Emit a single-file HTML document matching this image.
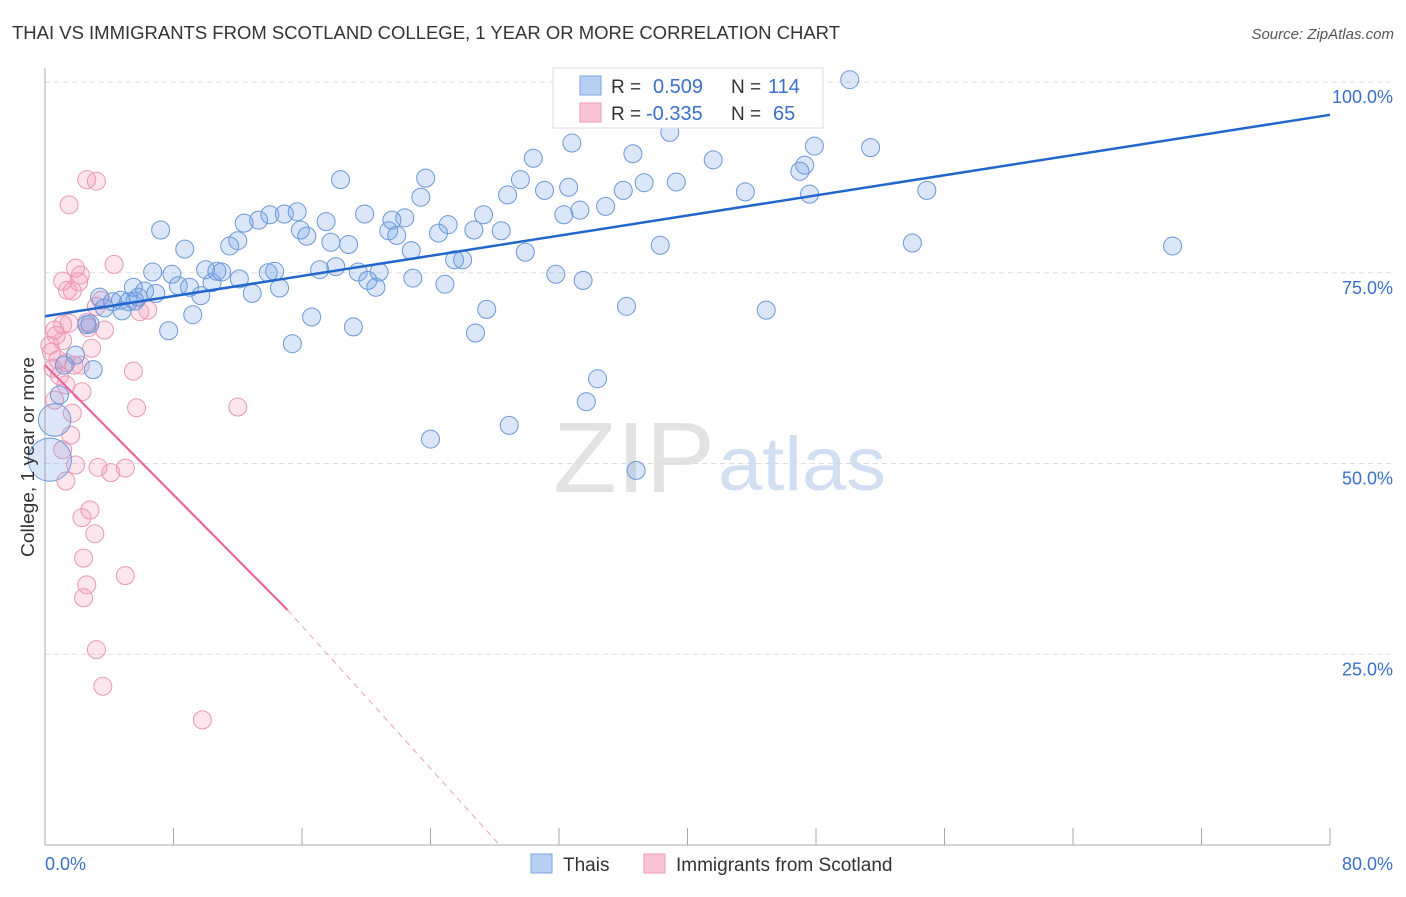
<!DOCTYPE html>
<html><head><meta charset="utf-8"><style>
body{margin:0;background:#fff;font-family:"Liberation Sans",sans-serif;}
svg text{font-family:"Liberation Sans",sans-serif;}
</style></head><body>
<svg id="chart" width="1406" height="892" viewBox="0 0 1406 892" xmlns="http://www.w3.org/2000/svg">
<text x="12" y="39" font-size="18" fill="#333" textLength="828" lengthAdjust="spacingAndGlyphs">THAI VS IMMIGRANTS FROM SCOTLAND COLLEGE, 1 YEAR OR MORE CORRELATION CHART</text>
<text x="1394" y="39" font-size="15" fill="#555" text-anchor="end" font-style="italic">Source: ZipAtlas.com</text>
<g id="grid"></g>
<text x="553" y="492" font-size="100" fill="#ddd" font-family="Liberation Serif" opacity="0.8" textLength="162" lengthAdjust="spacingAndGlyphs">ZIP</text>
<text x="718" y="490" font-size="76" fill="#c8d8f0" opacity="0.8" textLength="168" lengthAdjust="spacingAndGlyphs">atlas</text>
<g id="axes"></g>
<g id="pts"></g>
<g id="trends"></g>
<text transform="translate(34,457) rotate(-90)" font-size="18.5" fill="#333" text-anchor="middle" textLength="200" lengthAdjust="spacingAndGlyphs">College, 1 year or more</text>
<g>
<rect x="553" y="68" width="270" height="60" fill="#fff" stroke="#ddd"/>
<rect x="580" y="76" width="21" height="19" fill="#b8d0f2" stroke="#7aa6e0"/>
<rect x="580" y="103" width="21" height="19" fill="#f8c4d4" stroke="#ee9ab4"/>
<text x="611" y="93" font-size="19" fill="#333">R =</text>
<text x="653" y="93" font-size="20" fill="#3a70c8">0.509</text>
<text x="731" y="93" font-size="19" fill="#333">N =</text>
<text x="768" y="93" font-size="20" fill="#3a70c8">114</text>
<text x="611" y="120" font-size="19" fill="#333">R =</text>
<text x="646" y="120" font-size="20" fill="#3a70c8">-0.335</text>
<text x="731" y="120" font-size="19" fill="#333">N =</text>
<text x="773" y="120" font-size="20" fill="#3a70c8">65</text>
</g>
<g>
<rect x="531" y="854" width="21" height="19" fill="#b8d0f2" stroke="#7aa6e0"/>
<text x="563" y="871" font-size="19" fill="#333">Thais</text>
<rect x="644" y="854" width="21" height="19" fill="#f8c4d4" stroke="#ee9ab4"/>
<text x="676" y="871" font-size="19" fill="#333">Immigrants from Scotland</text>
</g>
</svg>
<script>
const xTicks=[0,8,16,24,32,40,48,56,64,72,80];
const yTicks=[25,50,75,100];
const yTickLabels=["25.0%","50.0%","75.0%","100.0%"];
const xLabels=["0.0%","80.0%"];
const thaiX=[50.1,38.9,32.8,47.9,51.4,30.4,36.6,41.6,47.3,47.0,18.4,23.7,29.6,31.1,32.6,37.3,39.3,43.6,47.6,54.9,23.4,28.8,36.0,34.9,33.3,32.3,19.9,14.0,14.9,15.7,13.3,12.4,22.4,21.6,17.5,27.3,25.1,7.2,15.9,16.3,21.4,21.9,24.5,26.7,28.4,12.0,11.5,17.8,18.9,8.7,38.3,54.0,70.2,22.8,29.9,25.5,26.0,6.7,10.0,10.7,11.0,7.9,13.9,14.3,17.1,18.1,19.5,20.8,31.8,33.5,12.1,10.4,8.3,9.0,5.5,6.2,6.9,14.6,12.9,20.1,20.6,22.9,24.9,9.7,3.4,4.2,4.7,5.6,5.8,5.2,3.7,4.8,9.2,27.5,36.2,44.9,16.6,2.8,2.6,7.7,19.2,26.8,15.4,1.9,1.2,3.0,34.4,33.7,0.9,24.0,28.9,36.8,0.6,0.3];
const thaiY=[100.3,93.4,92.0,91.6,91.4,90.0,90.6,89.8,89.1,88.3,87.2,87.4,87.2,85.8,86.2,86.8,86.9,85.6,85.3,85.8,84.9,85.2,85.8,83.7,83.2,82.6,82.7,82.6,82.7,83.0,81.9,81.5,82.2,81.9,81.7,82.6,81.3,80.6,80.6,79.8,80.5,79.9,80.2,80.6,80.5,79.2,78.5,79.0,78.7,78.1,78.6,78.9,78.5,77.9,77.7,76.7,76.7,75.1,75.4,75.2,75.1,74.8,75.0,75.2,75.4,75.8,75.1,75.1,74.8,74.0,74.2,73.7,73.3,73.1,73.1,72.6,72.3,73.0,72.3,74.0,73.1,74.3,73.5,72.0,71.8,71.2,71.4,71.3,71.8,71.2,70.4,70.0,69.5,70.2,70.6,70.1,69.2,68.3,68.2,67.4,67.9,67.1,65.7,64.2,62.9,62.3,61.1,58.1,59.0,53.2,55.0,49.1,55.7,50.5];
const thaiSize=[];for(let i=0;i<thaiX.length;i++)thaiSize.push(1);thaiSize[thaiX.length-2]=1.8;thaiSize[thaiX.length-1]=2.4;
const scotX=[2.6,3.2,1.5,4.3,1.1,1.9,2.2,2.1,1.4,1.7,3.5,3.2,2.6,1.1,0.7,5.9,6.4,0.3,0.4,0.8,0.5,1.3,1.8,0.9,1.3,2.3,5.5,0.6,1.7,1.6,5.7,12.0,1.1,1.9,3.3,4.1,5.0,1.3,2.3,2.8,3.1,2.4,2.6,5.0,2.4,3.2,3.6,9.8,1.1,2.2,2.9,1.5,0.6,3.7,2.7];
const scotY=[87.2,87.0,83.9,76.1,73.9,75.6,74.7,73.8,72.7,72.6,71.4,70.6,68.5,68.2,66.8,69.9,70.1,65.5,64.6,63.6,62.5,63.2,62.9,61.5,60.3,59.4,62.1,58.3,56.6,53.7,57.3,57.4,51.8,49.8,49.5,48.8,49.4,47.7,42.9,43.9,40.8,37.6,34.1,35.3,32.4,25.6,20.8,16.4,66.1,62.9,65.1,68.4,67.5,67.5,67.8];
const thaiTrend=[[0,69.3],[80,95.7]];
const scotTrendSolid=[[0,62.9],[15.1,30.8]];
const scotTrendDash=[[15.1,30.8],[28.3,0]];
const X0=45,X1=1330,Y0=845,Y100=82;
const sx=v=>X0+(X1-X0)*v/80, sy=v=>Y0-(Y0-Y100)*v/100;
const NS="http://www.w3.org/2000/svg";
function mk(t,a,p){const e=document.createElementNS(NS,t);for(const k in a)e.setAttribute(k,a[k]);p.appendChild(e);return e;}
const grid=document.getElementById('grid'),axes=document.getElementById('axes'),pts=document.getElementById('pts'),tr=document.getElementById('trends');
yTicks.forEach((v,i)=>{
 const l=mk('line',{x1:X0,x2:1394,y1:sy(v),y2:sy(v),stroke:'#ddd','stroke-dasharray':'5,4'},grid);
 
 
 const t=mk('text',{x:1393,y:sy(v)+21,'font-size':18,fill:'#3a70c8','text-anchor':'end'},axes);
 
 
 t.textContent=yTickLabels[i];
});
const ya=mk('line',{x1:X0,x2:X0,y1:68,y2:Y0,stroke:'#aaa'},axes);


const xa=mk('line',{x1:X0,x2:X1,y1:Y0,y2:Y0,stroke:'#aaa'},axes);


xTicks.forEach(v=>{const l=mk('line',{x1:sx(v),x2:sx(v),y1:Y0,y2:Y0-17,stroke:'#aaa'},axes);
 
 });
[[0,'start',45],[80,'end',1393]].forEach((d,i)=>{const t=mk('text',{x:d[2],y:870,'font-size':18,fill:'#3a70c8','text-anchor':d[1]},axes);
 
 
 t.textContent=xLabels[i];});
scotX.forEach((x,i)=>{const c=mk('circle',{cx:sx(x),cy:sy(scotY[i]),r:9,fill:'rgba(244,150,180,0.25)',stroke:'#ec97b3','stroke-width':1},pts);
 
 });
thaiX.forEach((x,i)=>{const c=mk('circle',{cx:sx(x),cy:sy(thaiY[i]),r:9*thaiSize[i],fill:'rgba(110,160,230,0.25)',stroke:'#6a98d8','stroke-width':1},pts);
 
 });
const l1=mk('line',{x1:sx(thaiTrend[0][0]),y1:sy(thaiTrend[0][1]),x2:sx(thaiTrend[1][0]),y2:sy(thaiTrend[1][1]),stroke:'#2266cc','stroke-width':2.5},tr);


const l2=mk('line',{x1:sx(scotTrendSolid[0][0]),y1:sy(scotTrendSolid[0][1]),x2:sx(scotTrendSolid[1][0]),y2:sy(scotTrendSolid[1][1]),stroke:'#e8679a','stroke-width':2.2},tr);


const l3=mk('line',{x1:sx(scotTrendDash[0][0]),y1:sy(scotTrendDash[0][1]),x2:sx(scotTrendDash[1][0]),y2:sy(scotTrendDash[1][1]),stroke:'#eaa0bc','stroke-width':1,'stroke-dasharray':'6,5'},tr);


</script>
</body></html>
